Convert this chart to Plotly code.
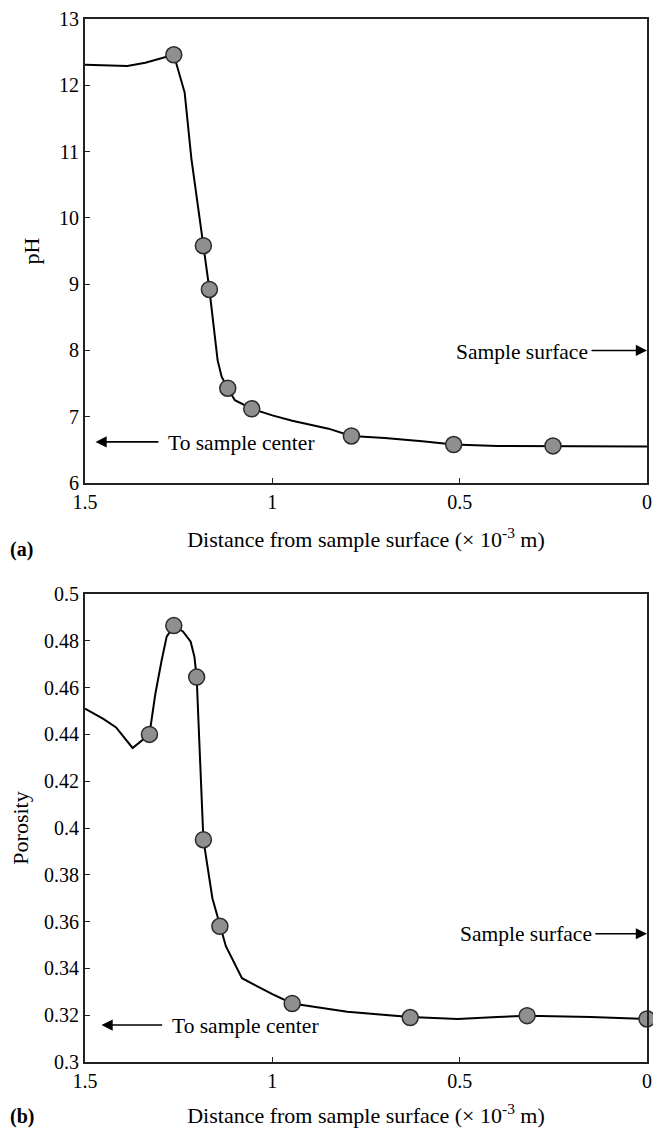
import plotly.graph_objects as go

# ---- data ----
# (a) pH profile: smooth curve and measured markers
ph_curve_x = [1.5, 1.45, 1.387, 1.339, 1.30, 1.263, 1.234, 1.216, 1.184, 1.168,
              1.146, 1.135, 1.119, 1.10, 1.055, 1.0, 0.947, 0.85, 0.789, 0.7,
              0.6, 0.516, 0.4, 0.251, 0.1, 0.0]
ph_curve_y = [12.31, 12.30, 12.29, 12.34, 12.40, 12.46, 11.89, 10.89, 9.58, 8.92,
              7.85, 7.60, 7.43, 7.25, 7.12, 7.02, 6.94, 6.82, 6.71, 6.68,
              6.63, 6.58, 6.56, 6.56, 6.55, 6.55]
ph_pts_x = [1.263, 1.184, 1.168, 1.119, 1.055, 0.789, 0.516, 0.251]
ph_pts_y = [12.46, 9.58, 8.92, 7.43, 7.12, 6.71, 6.58, 6.56]

# (b) porosity profile
po_curve_x = [1.5, 1.45, 1.417, 1.373, 1.328, 1.312, 1.295, 1.282, 1.263, 1.238,
              1.218, 1.208, 1.202, 1.184, 1.16, 1.14, 1.124, 1.081, 1.0, 0.947,
              0.8, 0.632, 0.505, 0.4, 0.320, 0.15, 0.0]
po_curve_y = [0.451, 0.4465, 0.443, 0.4342, 0.440, 0.4576, 0.472, 0.4818, 0.4865, 0.4839,
              0.4796, 0.4732, 0.4645, 0.395, 0.370, 0.358, 0.3495, 0.3358, 0.329, 0.325,
              0.3215, 0.3192, 0.3184, 0.3192, 0.3198, 0.3192, 0.3184]
po_pts_x = [1.328, 1.263, 1.202, 1.184, 1.14, 0.947, 0.632, 0.320, 0.0]
po_pts_y = [0.440, 0.4865, 0.4645, 0.395, 0.358, 0.325, 0.319, 0.3198, 0.3184]

x_ticks = [1.5, 1, 0.5, 0]
x_ticktext = ["1.5", "1", "0.5", "0"]
ph_ticks = [6, 7, 8, 9, 10, 11, 12, 13]
po_ticks = [0.3, 0.32, 0.34, 0.36, 0.38, 0.4, 0.42, 0.44, 0.46, 0.48, 0.5]
po_ticktext = ["0.3", "0.32", "0.34", "0.36", "0.38", "0.4", "0.42", "0.44", "0.46", "0.48", "0.5"]

x_title = "Distance from sample surface (× 10<sup>-3</sup> m)"

FONT = "Liberation Serif, Times New Roman, serif"
# the page body has an 8px margin, so the figure starts 8px in from the window corner
OFF = 8
W, H = 661 - 2 * OFF, 1128 - OFF


def px_x(p):
    return (p - OFF) / W


def px_y(p):
    return 1 - (p - OFF) / H


fig = go.Figure()

line_style = dict(color="black", width=2)
marker_style = dict(size=16, color="#8f8f8f", line=dict(color="#2a2a2a", width=1.5))

fig.add_trace(go.Scatter(x=ph_curve_x, y=ph_curve_y, mode="lines", line=line_style,
                         xaxis="x", yaxis="y", showlegend=False, hoverinfo="skip"))
fig.add_trace(go.Scatter(x=ph_pts_x, y=ph_pts_y, mode="markers", marker=marker_style,
                         cliponaxis=False, xaxis="x", yaxis="y", showlegend=False))
fig.add_trace(go.Scatter(x=po_curve_x, y=po_curve_y, mode="lines", line=line_style,
                         xaxis="x2", yaxis="y2", showlegend=False, hoverinfo="skip"))
fig.add_trace(go.Scatter(x=po_pts_x, y=po_pts_y, mode="markers", marker=marker_style,
                         cliponaxis=False, xaxis="x2", yaxis="y2", showlegend=False))

xdom = [px_x(85), px_x(647)]
top_dom = [px_y(483), px_y(19)]
bot_dom = [px_y(1062), px_y(594)]

axis_common = dict(showline=True, linecolor="#222", linewidth=2, mirror=True,
                   ticks="inside", ticklen=5, tickcolor="#222", tickwidth=1,
                   showgrid=False, zeroline=False, automargin=False,
                   ticklabeloverflow="allow",
                   tickfont=dict(family=FONT, size=20, color="black"))

title_font = dict(family=FONT, size=22, color="black")

xa = dict(axis_common, domain=xdom, range=[1.5, 0], tickvals=x_ticks, ticktext=x_ticktext,
          title=dict(text=x_title, font=title_font, standoff=20))

fig.update_layout(
    width=W, height=H,
    margin=dict(l=0, r=0, t=0, b=0),
    paper_bgcolor="white", plot_bgcolor="white",
    font=dict(family=FONT, color="black"),
    xaxis=dict(xa, anchor="y"),
    xaxis2=dict(xa, anchor="y2"),
    yaxis=dict(axis_common, domain=top_dom, range=[6, 13], tickvals=ph_ticks,
               anchor="x", title=dict(text="pH", font=title_font, standoff=13)),
    yaxis2=dict(axis_common, domain=bot_dom, range=[0.3, 0.5], tickvals=po_ticks,
                ticktext=po_ticktext, anchor="x2",
                title=dict(text="Porosity", font=title_font, standoff=13)),
)

ann_font = dict(family=FONT, size=21.5, color="black")
arrow_style = dict(showarrow=True, arrowhead=2, arrowsize=1.4, arrowwidth=1.6, arrowcolor="black", text="")

annotations = [
    # (a)
    dict(x=0.152, y=7.97, xref="x", yref="y", text="Sample surface", showarrow=False,
         xanchor="right", yanchor="middle", font=ann_font),
    dict(arrow_style, x=0.0, y=8.0, ax=0.152, ay=8.0, xref="x", yref="y", axref="x", ayref="y"),
    dict(x=1.283, y=6.6, xref="x", yref="y", text="To sample center", showarrow=False,
         xanchor="left", yanchor="middle", font=ann_font),
    dict(arrow_style, x=1.472, y=6.62, ax=1.30, ay=6.62, xref="x", yref="y", axref="x", ayref="y"),
    # (b)
    dict(x=0.142, y=0.3545, xref="x2", yref="y2", text="Sample surface", showarrow=False,
         xanchor="right", yanchor="middle", font=ann_font),
    dict(arrow_style, x=0.0, y=0.3548, ax=0.142, ay=0.3548, xref="x2", yref="y2", axref="x2", ayref="y2"),
    dict(x=1.273, y=0.3155, xref="x2", yref="y2", text="To sample center", showarrow=False,
         xanchor="left", yanchor="middle", font=ann_font),
    dict(arrow_style, x=1.456, y=0.3158, ax=1.29, ay=0.3158, xref="x2", yref="y2", axref="x2", ayref="y2"),
    # panel labels
    dict(x=px_x(8), y=px_y(549), xref="paper", yref="paper", text="<b>(a)</b>", showarrow=False,
         xanchor="left", yanchor="middle", font=dict(family=FONT, size=20, color="black")),
    dict(x=px_x(8), y=px_y(1116), xref="paper", yref="paper", text="<b>(b)</b>", showarrow=False,
         xanchor="left", yanchor="middle", font=dict(family=FONT, size=20, color="black")),
]
fig.update_layout(annotations=annotations)

fig.write_html("out.html")
